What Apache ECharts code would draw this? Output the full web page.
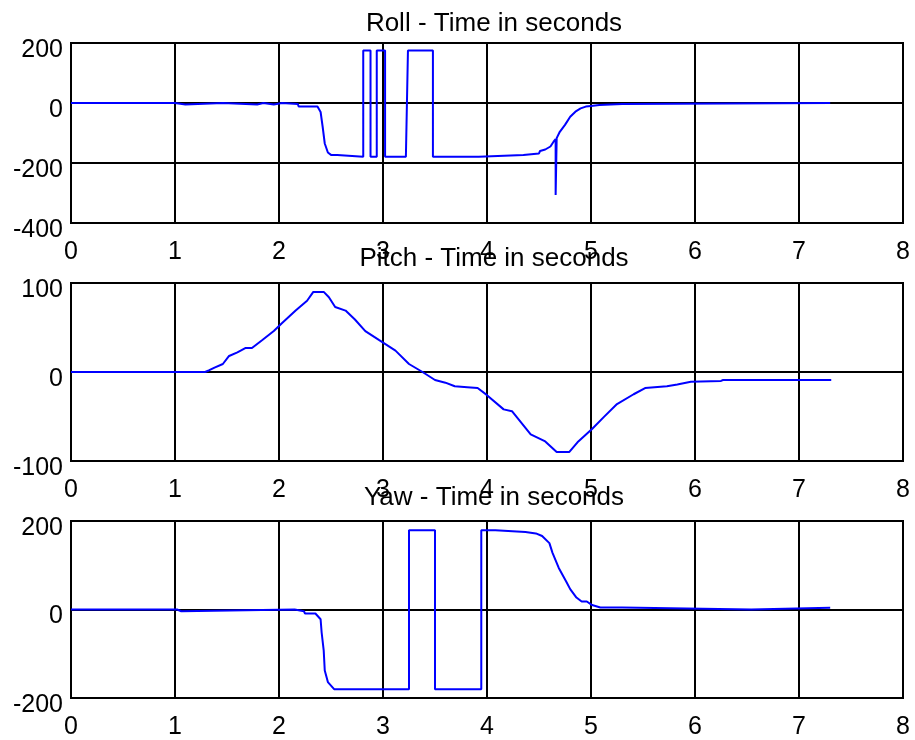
<!DOCTYPE html>
<html>
<head>
<meta charset="utf-8">
<script src="https://cdn.jsdelivr.net/npm/echarts@6/dist/echarts.min.js"></script>
<style>
html,body{margin:0;padding:0;background:#fff;}
#chart{width:915px;height:740px;}
</style>
</head>
<body>
<div id="chart"></div>
<script>
// ---- data ----
var titles = ['Roll - Time in seconds', 'Pitch - Time in seconds', 'Yaw - Time in seconds'];
var xTicks = [0, 1, 2, 3, 4, 5, 6, 7, 8];

var rollT = [0, 1.0, 1.01, 1.10, 1.11, 1.46, 1.47, 1.79, 1.80, 1.85, 1.86, 1.95, 1.96, 2.03, 2.04, 2.18, 2.19, 2.37, 2.40, 2.42, 2.44, 2.47, 2.50, 2.56, 2.57, 2.81, 2.81, 2.88, 2.88, 2.94, 2.94, 3.02, 3.02, 3.22, 3.24, 3.48, 3.48, 3.92, 3.93, 4.35, 4.36, 4.50, 4.51, 4.56, 4.61, 4.64, 4.66, 4.66, 4.67, 4.70, 4.75, 4.80, 4.85, 4.90, 4.95, 5.00, 5.08, 5.30, 5.31, 7.30];
var rollV = [0, 0, -5, -5, 0, 0, -5, -5, 0, 0, -5, -5, 0, 0, -3, -3, -12, -12, -30, -80, -135, -165, -173, -173, -179, -179, 175, 175, -179, -179, 175, 175, -179, -179, 175, 175, -179, -179, -173, -173, -168, -168, -160, -155, -145, -129, -120, -307, -117, -96, -73, -46, -29, -18, -12, -10, -7, -3, 0, 0];

var pitchT = [0, 1.29, 1.33, 1.38, 1.46, 1.52, 1.60, 1.68, 1.74, 1.84, 1.95, 2.03, 2.16, 2.27, 2.33, 2.43, 2.48, 2.54, 2.64, 2.73, 2.83, 2.96, 3.12, 3.25, 3.38, 3.50, 3.60, 3.69, 3.81, 3.91, 4.00, 4.16, 4.24, 4.42, 4.56, 4.67, 4.79, 4.87, 5.01, 5.12, 5.25, 5.41, 5.52, 5.73, 5.83, 5.96, 6.25, 6.27, 7.31];
var pitchV = [0, 0, 2, 5, 9, 18, 22, 27, 27, 36, 46, 55, 69, 80, 90, 90, 84, 73, 69, 59, 46, 36, 24, 9, 0, -9, -12, -16, -17, -18, -26, -42, -44, -70, -78, -90, -90, -79, -64, -51, -36, -25, -18, -16, -14, -11, -10, -9, -9];

var yawT = [0, 1.02, 1.03, 1.06, 1.07, 2.15, 2.16, 2.24, 2.25, 2.35, 2.40, 2.41, 2.43, 2.44, 2.47, 2.53, 3.25, 3.25, 3.50, 3.50, 3.945, 3.945, 4.08, 4.09, 4.37, 4.38, 4.47, 4.53, 4.60, 4.63, 4.69, 4.76, 4.80, 4.86, 4.91, 4.96, 5.01, 5.09, 5.30, 5.31, 6.54, 6.55, 7.30];
var yawV = [0, 0, -4, -4, 0, 0, -4, -4, -9, -9, -22, -52, -93, -138, -164, -180, -180, 179, 179, -180, -180, 179, 179, 175, 175, 172, 172, 166, 150, 128, 94, 64, 46, 27, 18, 18, 10, 4.5, 4.5, 0, 0, 4, 4];

var yRanges = [[-400, 200, 200], [-100, 100, 100], [-200, 200, 200]];

// ---- chart ----
function pairs(t, v) { return t.map(function (x, i) { return [x, v[i]]; }); }
var seriesData = [pairs(rollT, rollV), pairs(pitchT, pitchV), pairs(yawT, yawV)];

var gridPos = [{top: 43, height: 180}, {top: 283, height: 178}, {top: 521, height: 178}];
var titleTops = [11, 246, 485];
var font = 'Liberation Sans, Arial, sans-serif';

var option = {
  backgroundColor: '#fff',
  animation: false,
  title: titles.map(function (t, i) {
    return {text: t, left: 494, top: titleTops[i], textAlign: 'center', padding: 0,
      textStyle: {fontFamily: font, fontSize: 26, fontWeight: 'normal', color: '#000'}};
  }),
  grid: gridPos.map(function (g) {
    return {left: 71, right: 12, top: g.top, height: g.height, show: true,
      borderColor: '#000', borderWidth: 2, backgroundColor: 'transparent'};
  }),
  xAxis: [0, 1, 2].map(function (i) {
    return {type: 'value', gridIndex: i, min: xTicks[0], max: xTicks[xTicks.length - 1], interval: 1,
      axisLine: {show: true, onZero: false, lineStyle: {color: '#000', width: 2}},
      axisTick: {show: false},
      splitLine: {show: true, lineStyle: {color: '#000', width: 2}},
      axisLabel: {show: true, margin: 17, color: '#000', fontFamily: font, fontSize: 25,
        showMinLabel: true, showMaxLabel: true}};
  }),
  yAxis: [0, 1, 2].map(function (i) {
    return {type: 'value', gridIndex: i, min: yRanges[i][0], max: yRanges[i][1], interval: yRanges[i][2],
      axisLine: {show: true, onZero: false, lineStyle: {color: '#000', width: 2}},
      axisTick: {show: false},
      splitLine: {show: true, lineStyle: {color: '#000', width: 2}},
      axisLabel: {show: true, margin: 8, color: '#000', fontFamily: font, fontSize: 25,
        verticalAlign: 'top', lineHeight: 14, showMinLabel: true, showMaxLabel: true}};
  }),
  series: [0, 1, 2].map(function (i) {
    return {type: 'line', xAxisIndex: i, yAxisIndex: i, data: seriesData[i], showSymbol: false,
      symbol: 'none', lineStyle: {color: '#0000ff', width: 2}, z: 10};
  })
};

var chart = echarts.init(document.getElementById('chart'), null, {renderer: 'canvas'});
chart.setOption(option);
</script>
</body>
</html>
